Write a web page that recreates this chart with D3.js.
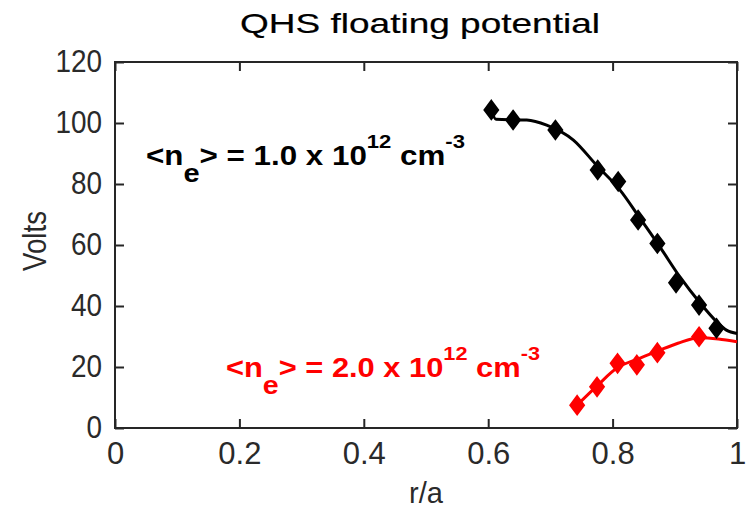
<!DOCTYPE html>
<html>
<head>
<meta charset="utf-8">
<script src="https://cdn.jsdelivr.net/npm/d3@7"></script>
<style>
  html, body { margin: 0; padding: 0; background: #fff; }
  svg { display: block; }
  text { font-family: "Liberation Sans", Arial, sans-serif; }
</style>
</head>
<body>
<svg id="chart" width="747" height="508"></svg>
<script>
// Measured floating potential, <ne> = 1.0e12 cm^-3
const lowR = [0.605, 0.640, 0.708, 0.776, 0.809, 0.841, 0.872, 0.902, 0.939, 0.967];
const lowV = [104.3, 101.0, 97.7, 84.6, 80.8, 68.2, 60.5, 47.6, 40.3, 32.7];
// Fitted profile, <ne> = 1.0e12 cm^-3
const lowFitR = [0.605, 0.6125, 0.662, 0.694, 0.737, 0.774, 0.812, 0.844, 0.876, 0.908, 0.941, 0.967, 0.983, 1.0];
const lowFitV = [104.3, 101.2, 101.0, 99.3, 94.4, 86.2, 78.0, 68.8, 59.4, 49.6, 40.9, 34.9, 32.1, 31.0];

// Measured floating potential, <ne> = 2.0e12 cm^-3
const highR = [0.743, 0.775, 0.808, 0.839, 0.872, 0.939];
const highV = [7.5, 13.5, 21.2, 20.7, 24.7, 29.9];
// Fitted profile, <ne> = 2.0e12 cm^-3
const highFitR = [0.743, 0.775, 0.808, 0.840, 0.872, 0.905, 0.939, 0.970, 1.0];
const highFitV = [7.5, 13.8, 19.8, 22.6, 25.2, 27.8, 29.6, 29.2, 28.3];

const xTicks = [0, 0.2, 0.4, 0.6, 0.8, 1];
const yTicks = [0, 20, 40, 60, 80, 100, 120];

const svg = d3.select("#chart");
const L = 115, R = 737, T = 62, B = 428;
const x = d3.scaleLinear().domain([0, 1]).range([L, R]);
const y = d3.scaleLinear().domain([0, 120]).range([B, T]);
const axisColor = "#262626";
const tickLen = 9;

// Frame
svg.append("rect")
  .attr("x", L).attr("y", T).attr("width", R - L).attr("height", B - T)
  .attr("fill", "none").attr("stroke", axisColor).attr("stroke-width", 2);

// Axes with inward ticks on all four sides
const fmtX = d => d === 0 ? "0" : d === 1 ? "1" : d3.format(".1f")(d);
const axBottom = svg.append("g").attr("transform", `translate(0,${B})`)
  .call(d3.axisBottom(x).tickValues(xTicks).tickSizeInner(-tickLen).tickSizeOuter(0).tickPadding(14).tickFormat(fmtX));
const axTop = svg.append("g").attr("transform", `translate(0,${T})`)
  .call(d3.axisTop(x).tickValues(xTicks).tickSizeInner(-tickLen).tickSizeOuter(0).tickFormat(""));
const axLeft = svg.append("g").attr("transform", `translate(${L},0)`)
  .call(d3.axisLeft(y).tickValues(yTicks).tickSizeInner(-tickLen).tickSizeOuter(0).tickPadding(13));
const axRight = svg.append("g").attr("transform", `translate(${R},0)`)
  .call(d3.axisRight(y).tickValues(yTicks).tickSizeInner(-tickLen).tickSizeOuter(0).tickFormat(""));

[axBottom, axTop, axLeft, axRight].forEach(g => {
  g.select(".domain").remove();
  g.selectAll(".tick line").attr("stroke", axisColor).attr("stroke-width", 2);
  g.selectAll(".tick text").attr("fill", "#2a2a2a").attr("font-size", 31)
    .attr("font-family", "'Liberation Sans', Arial, sans-serif");
});
axLeft.selectAll(".tick text").attr("transform", "scale(0.9,1)")
  .attr("x", -13 / 0.9);
axBottom.selectAll(".tick text").attr("dy", "0.71em");

// Axis titles
svg.append("text").attr("x", 426).attr("y", 503).attr("text-anchor", "middle")
  .attr("font-size", 29).attr("fill", "#2a2a2a").text("r/a");
svg.append("text").attr("transform", "translate(46,241) rotate(-90)").attr("text-anchor", "middle")
  .attr("font-size", 33).attr("fill", "#2a2a2a")
  .attr("textLength", 60).attr("lengthAdjust", "spacingAndGlyphs").text("Volts");
svg.append("text").attr("x", 240).attr("y", 33).attr("textLength", 360)
  .attr("lengthAdjust", "spacingAndGlyphs")
  .attr("font-size", 28).attr("fill", "#000").attr("stroke", "#000").attr("stroke-width", 0.2)
  .text("QHS floating potential");

// Curves and markers
const line = d3.line().x(d => x(d[0])).y(d => y(d[1])).curve(d3.curveMonotoneX);
const diamond = d3.symbol().type(d3.symbolDiamond).size(100);

function series(rs, vs, fr, fv, color) {
  svg.append("path").datum(fr.map((r, i) => [r, fv[i]]))
    .attr("d", line).attr("fill", "none").attr("stroke", color).attr("stroke-width", 3);
  svg.append("g").selectAll("path").data(rs.map((r, i) => [r, vs[i]])).join("path")
    .attr("d", diamond)
    .attr("transform", d => `translate(${x(d[0])},${y(d[1])}) scale(1.3,1.0)`)
    .attr("fill", color).attr("stroke", color).attr("stroke-width", 1.5);
}
series(highR, highV, highFitR, highFitV, "#ff0000");
series(lowR, lowV, lowFitR, lowFitV, "#000000");

// Density annotations
function label(x0, y0, value, color, width) {
  const t = svg.append("text").attr("x", x0).attr("y", y0).attr("fill", color)
    .attr("font-size", 27).attr("font-weight", "bold")
    .attr("textLength", width).attr("lengthAdjust", "spacingAndGlyphs");
  t.append("tspan").text("<n");
  t.append("tspan").attr("dy", 17).attr("font-size", 25).text("e");
  t.append("tspan").attr("dy", -17).text(`> = ${value} x 10`);
  t.append("tspan").attr("dy", -17).attr("font-size", 19).text("12");
  t.append("tspan").attr("dy", 17).text(" cm");
  t.append("tspan").attr("dy", -17).attr("font-size", 19).text("-3");
}
label(146, 165, "1.0", "#000", 319);
label(226, 377, "2.0", "#ff0000", 314);
</script>
</body>
</html>
